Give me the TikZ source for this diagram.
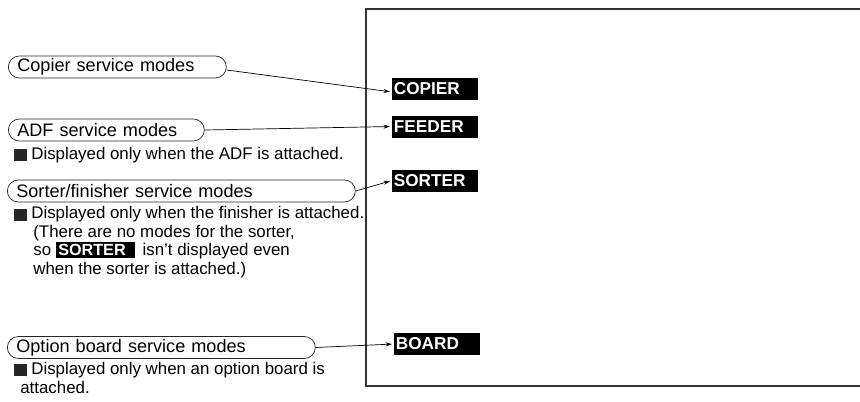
\documentclass[tikz,border=0pt]{standalone}
\usepackage{fontspec}
\setmainfont{Liberation Sans}
\usetikzlibrary{arrows.meta, positioning}
\tikzstyle{pill} = [rectangle, rounded corners=0.22cm,
minimum height=0.44cm,
inner xsep=0.18cm, inner ysep=0pt,
align=left,
anchor=west,
font=\fontsize{10.3}{12}\selectfont,
draw=black!85, thin]
\tikzstyle{tag} = [rectangle, fill=black, text=white,
font=\fontsize{9.8}{10}\selectfont\bfseries,
minimum height=0.44cm, text width=1.66cm,
inner xsep=0.03cm, inner ysep=0pt,
align=left, anchor=west]
\tikzstyle{bullet} = [rectangle, fill=black!85, minimum size=0.25cm, inner sep=0pt]
\tikzstyle{note} = [anchor=west, align=left, inner sep=0pt]
\tikzstyle{arrow} = [-{Stealth[length=0.13cm, width=0.08cm]}, thin, shorten >=0.04cm]

\begin{document}
\begin{tikzpicture} [every node/.style={font=\fontsize{9.6}{10.6}\selectfont}]

		% Canvas boundary
		\useasboundingbox (0,0) rectangle (17.2,-8.02);

		% Screen frame (open at the right)
		\draw[thick, black!80] (17.4,-0.18) -- (7.32,-0.18) -- (7.32,-7.72) -- (17.4,-7.72);

		% Screen labels
		\foreach \n/\t/\y in {copier/COPIER/-1.78, feeder/FEEDER/-2.53, sorter/SORTER/-3.61}
			\node[tag] (\n) at (7.84, \y) {\t};
		\node[tag] (board) at (7.88, -6.88) {BOARD};

		% Service mode pills
		\node[pill, text width=4.0cm] (pcopier) at (0.16, -1.34) {Copier service modes};
		\node[pill, text width=3.56cm] (padf) at (0.16, -2.6) {ADF service modes};
		\node[pill, text width=6.6cm] (psorter) at (0.14, -3.82) {Sorter/finisher service modes};
		\node[pill, text width=5.8cm] (poption) at (0.14, -6.95) {Option board service modes};

		% Notes
		\node[bullet] (b1) at (0.41, -3.10) {};
		\node[note] (n1) at (0.62, -3.10) {Displayed only when the ADF is attached.};
		\node[bullet] (b2) at (0.41, -4.30) {};
		\node[note, anchor=north west] (n2) at (0.62, -4.12) {Displayed only when the finisher is attached.\\
			\hspace{0.04cm}(There are no modes for the sorter,\\
			\hspace{0.04cm}so {\setlength{\fboxsep}{1.4pt}\colorbox{black}{\textcolor{white}{\fontsize{9.2}{10}\selectfont\bfseries SORTER}\hspace{4pt}}} \,isn't displayed even\\
			\hspace{0.04cm}when the sorter is attached.)};
		\node[bullet] (b3) at (0.41, -7.40) {};
		\node[note] (n3) at (0.62, -7.40) {Displayed only when an option board is};
		\node[note] (n3b) at (0.40, -7.74) {attached.};

		% Connections (pill to screen label)
		\draw[arrow] ([yshift=-0.06cm]pcopier.east) -- ([yshift=-0.06cm]copier.west);
		\draw[arrow] (padf.east) -- (feeder.west);
		\draw[arrow] (psorter.east) -- (sorter.west);
		\draw[arrow] (poption.east) -- (board.west);

	\end{tikzpicture}
\end{document}
